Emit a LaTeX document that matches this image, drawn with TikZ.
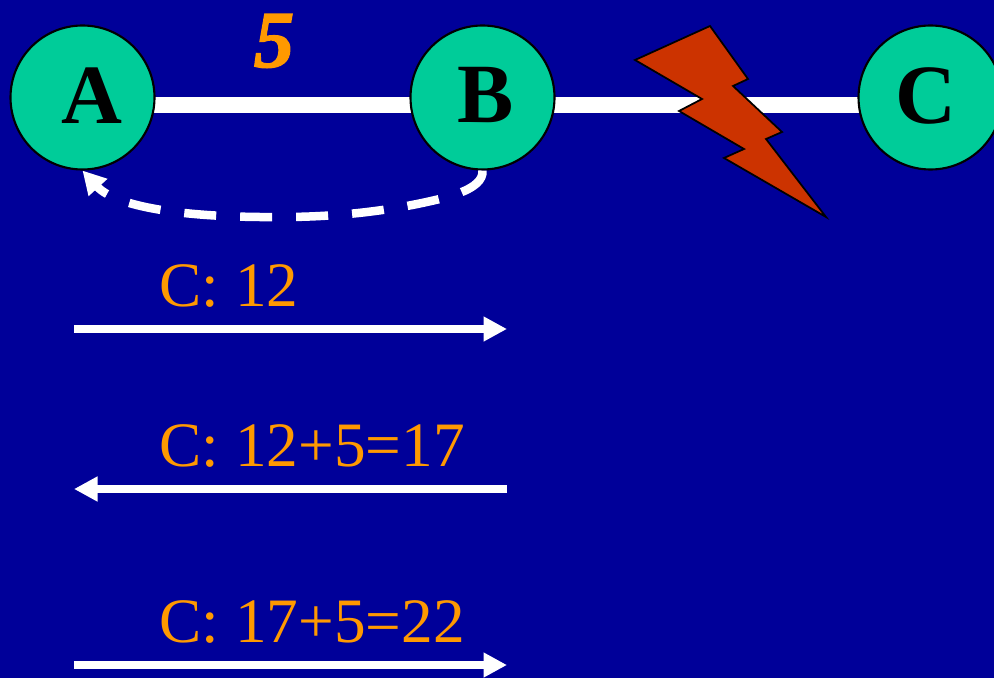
\documentclass[tikz,border=0pt]{standalone}
\usepackage{fontspec}
\setmainfont{Liberation Serif}[BoldItalicFeatures={FakeBold=1.6}]
\usetikzlibrary{arrows.meta,backgrounds}
\definecolor{slideblue}{HTML}{000099}
\definecolor{nodegreen}{HTML}{00CC99}
\definecolor{costorange}{HTML}{FF9900}
\definecolor{boltred}{HTML}{CC3300}
\tikzset{
  router/.style={circle, draw=black, line width=0.6pt, fill=nodegreen, minimum size=1.44cm, inner sep=0pt},
  rname/.style={inner sep=0pt, yshift=0.02cm, font=\fontsize{24}{24}\selectfont\bfseries},
  link/.style={white, line width=0.16cm},
  update/.style={white, line width=0.08cm, -{Triangle[length=0.235cm,width=0.235cm]}},
  dist/.style={text=costorange, anchor=base west, inner sep=0pt, font=\fontsize{18}{18}\selectfont}
}
\begin{document}
\begin{tikzpicture}
  \useasboundingbox (0,0) rectangle (9.94,6.78);
  \node[router, label={[rname, xshift=0.09cm]center:A}] (A) at (0.825,5.805) {};
  \node[router, label={[rname, xshift=0.035cm]center:B}] (B) at (4.825,5.805) {};
  \node[router, label={[rname, xshift=-0.05cm]center:C}] (C) at (9.305,5.805) {};
  \begin{pgfonlayer}{background}
    \fill[slideblue] (0,0) rectangle (9.94,6.78);
    \draw[link] (A.center) ++(0,-0.075) coordinate (ab) -- (ab -| C.center);
  \end{pgfonlayer}
  \node[text=costorange, inner sep=0pt, font=\fontsize{23}{23}\selectfont\bfseries\itshape] (cost) at (2.74,6.37) {5};
  \draw[black, fill=boltred, line width=0.5pt] (7.10,6.52) -- (7.48,5.99) -- (7.33,5.92) -- (7.82,5.46) -- (7.66,5.39) -- (8.26,4.61) -- (7.24,5.20) -- (7.44,5.29) -- (6.79,5.67) -- (7.02,5.79) -- (6.35,6.18) -- cycle;
  \draw[white, line width=0.085cm, dash pattern=on 0.32cm off 0.24cm, -{Triangle[length=0.23cm,width=0.24cm]}] (B.south) .. controls (4.84,4.88) and (4.45,4.80) .. (4.22,4.75) .. controls (3.7,4.64) and (3.2,4.61) .. (2.83,4.61) .. controls (1.8,4.6) and (1.15,4.72) .. (A.south);
  \coordinate (r1) at (0.74,3.49);
  \coordinate (s1) at (5.07,3.49);
  \coordinate (r2) at (0.74,1.89);
  \coordinate (s2) at (5.07,1.89);
  \coordinate (r3) at (0.74,0.13);
  \coordinate (s3) at (5.07,0.13);
  \draw[update] (r1) -- (s1);
  \draw[update] (s2) -- (r2);
  \draw[update] (r3) -- (s3);
  \node[dist] (msg1) at (1.59,3.72) {C: 12};
  \node[dist] (msg2) at (1.59,2.12) {C: 12+5=17};
  \node[dist] (msg3) at (1.59,0.36) {C: 17+5=22};
\end{tikzpicture}
\end{document}
